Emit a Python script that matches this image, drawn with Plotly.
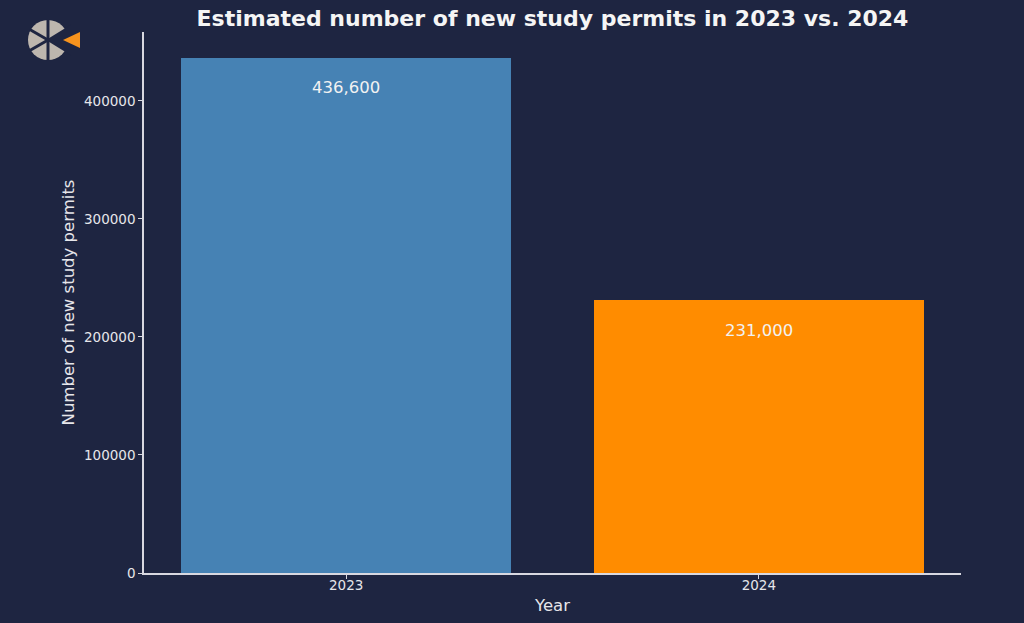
import plotly.graph_objects as go
import math

# Data
years = ["2023", "2024"]
permits = [436600, 231000]
bar_colors = ["#4682B4", "#FF8C00"]
y_ticks = [0, 100000, 200000, 300000, 400000]

BG = "#1e2541"
FG = "#e6e6ea"
W, H = 1024, 623
ML, MR, MT, MB = 144, 63, 32, 50
PW, PH = W - ML - MR, H - MT - MB


def px_to_paper(x, y):
    return (x - ML) / PW, (H - MB - y) / PH


fig = go.Figure()

fig.add_trace(go.Bar(
    x=years,
    y=permits,
    width=0.8,
    marker=dict(color=bar_colors, line=dict(width=0)),
    hoverinfo="x+y",
    showlegend=False
))

# value labels just under the top of each bar
for i, v in enumerate(permits):
    fig.add_annotation(
        x=i, y=v, xref="x", yref="y", text=f"{v:,}", showarrow=False,
        yshift=-30, font=dict(size=16.5, color="#f2f2f2", family="DejaVu Sans")
    )

# small logo top-left (grey pie with orange pointer)
shapes = []
cx, cy, r = 48, 40, 20
x0, y0 = px_to_paper(cx - r, cy + r)
x1, y1 = px_to_paper(cx + r, cy - r)
shapes.append(dict(type="circle", xref="paper", yref="paper", x0=x0, y0=y0, x1=x1, y1=y1,
                   fillcolor="#bdb6ae", line=dict(width=0), layer="above"))


def path_of(points):
    parts = []
    for i, (px, py) in enumerate(points):
        a, b = px_to_paper(px, py)
        parts.append(("M" if i == 0 else "L") + f"{a:.5f},{b:.5f}")
    return " ".join(parts) + " Z"


# notch on the right side
shapes.append(dict(type="path", xref="paper", yref="paper",
                   path=path_of([(cx - 2, cy), (cx + 24, cy - 16), (cx + 24, cy + 16)]),
                   fillcolor=BG, line=dict(width=0), layer="above"))
# separating lines
seg_lines = [((cx, cy - r - 1), (cx, cy + r + 1)),
             ((cx, cy), (cx - (r + 1) * math.cos(math.radians(30)), cy - (r + 1) * 0.5)),
             ((cx, cy), (cx - (r + 1) * math.cos(math.radians(30)), cy + (r + 1) * 0.5))]
for (ax_, ay_), (bx_, by_) in seg_lines:
    a0, b0 = px_to_paper(ax_, ay_)
    a1, b1 = px_to_paper(bx_, by_)
    shapes.append(dict(type="line", xref="paper", yref="paper", x0=a0, y0=b0, x1=a1, y1=b1,
                       line=dict(color=BG, width=3), layer="above"))
# orange triangle
shapes.append(dict(type="path", xref="paper", yref="paper",
                   path=path_of([(63, 40), (80, 32), (80, 48)]),
                   fillcolor="#f7931e", line=dict(width=0), layer="above"))

fig.update_layout(
    width=W, height=H,
    paper_bgcolor=BG, plot_bgcolor=BG,
    margin=dict(l=ML, r=MR, t=MT, b=MB),
    font=dict(family="DejaVu Sans", color=FG, size=13),
    title=dict(text="<b>Estimated number of new study permits in 2023 vs. 2024</b>",
               x=(ML + PW / 2) / W, xanchor="center", y=1 - 18 / H, yanchor="middle",
               font=dict(size=22, color="#f5f5f5", family="DejaVu Sans")),
    shapes=shapes,
    bargap=0
)

fig.update_xaxes(
    type="category", range=[-0.49, 1.49], automargin=False,
    showgrid=False, zeroline=False,
    showline=True, linecolor="#d8d8e0", linewidth=1.5,
    ticks="outside", ticklen=4, tickcolor="#d8d8e0",
    tickfont=dict(size=13.5, color=FG), ticklabelstandoff=-5,
    title=dict(text="Year", font=dict(size=16.5, color=FG), standoff=7)
)
fig.update_yaxes(
    range=[0, 436600 * 1.05], automargin=False,
    tickvals=y_ticks, tickformat="d",
    showgrid=False, zeroline=False,
    showline=True, linecolor="#d8d8e0", linewidth=1.5,
    ticks="outside", ticklen=4, tickcolor="#d8d8e0",
    tickfont=dict(size=13.5, color=FG), ticklabelstandoff=0,
    title=dict(text="Number of new study permits", font=dict(size=16.5, color=FG), standoff=5)
)

fig.write_html("out.html", config={"displayModeBar": False},
               post_script="document.body.style.margin='0px';")
